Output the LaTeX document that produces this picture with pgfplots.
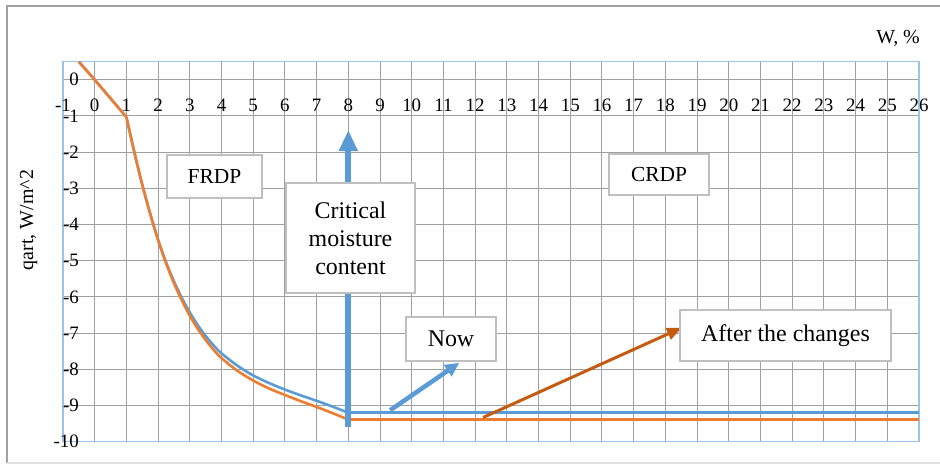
\documentclass[border=0pt]{standalone}
\usepackage{fontspec}
\setmainfont{Liberation Serif}
\usepackage{pgfplots}
\pgfplotsset{compat=1.18}
\usetikzlibrary{arrows.meta}
\definecolor{xlblue}{HTML}{5B9BD5}
\definecolor{xlorange}{HTML}{ED7D31}
\definecolor{xlbrown}{HTML}{C55A11}
\definecolor{axblue}{HTML}{9DC3E6}
\definecolor{gridgray}{HTML}{A0A0A0}
\definecolor{boxgray}{HTML}{BFBFBF}
\definecolor{framegray}{HTML}{A0A0A0}
\begin{document}
\begin{tikzpicture}
\begin{axis}[
  at={(63bp,24.3bp)}, anchor=south west,
  scale only axis, width=856bp, height=380bp,
  xmin=-1, xmax=26, ymin=-10, ymax=0.5,
  xtick={-1,0,...,26}, ytick={-10,-9,...,0},
  grid=major, major grid style={draw=gridgray, line width=1bp},
  axis line style={draw=axblue, line width=1.5bp},
  major tick length=0pt,
  xticklabel pos=upper,
  xticklabel style={anchor=center, inner sep=0pt, yshift=-43.3bp},
  yticklabel style={anchor=east, inner sep=0pt, xshift=16bp},
  tick label style={font=\fontsize{19}{19}\selectfont},
  /pgf/number format/assume math mode=true,
]
% blue series (Now)
\addplot[xlblue, line width=2.6bp] coordinates {(-0.5,0.5) (0,0) (1,-1.03)};
\addplot[xlblue, line width=2.6bp, smooth] coordinates {
 (1,-1.03) (1.25,-2.0) (1.5,-2.9) (1.75,-3.7) (2,-4.42) (2.25,-5.04) (2.5,-5.57)
 (2.75,-6.03) (3,-6.43) (3.25,-6.78) (3.5,-7.08) (3.75,-7.34) (4,-7.56) (4.5,-7.9)
 (5,-8.17) (5.5,-8.38) (6,-8.56) (6.5,-8.72) (7,-8.87) (7.5,-9.03) (8,-9.2)};
\addplot[xlblue, line width=2.6bp] coordinates {(8,-9.2) (26,-9.2)};
% orange series (After the changes)
\addplot[xlorange, line width=2.6bp] coordinates {(-0.5,0.5) (0,0) (1,-1.03)};
\addplot[xlorange, line width=2.6bp, smooth] coordinates {
 (1,-1.03) (1.25,-2.0) (1.5,-2.9) (1.75,-3.7) (2,-4.43) (2.25,-5.07) (2.5,-5.62)
 (2.75,-6.1) (3,-6.52) (3.25,-6.88) (3.5,-7.19) (3.75,-7.46) (4,-7.69) (4.5,-8.04)
 (5,-8.31) (5.5,-8.53) (6,-8.71) (6.5,-8.88) (7,-9.04) (7.5,-9.21) (8,-9.39)};
\addplot[xlorange, line width=2.6bp] coordinates {(8,-9.39) (26,-9.39)};
% arrows
\addplot[xlblue, line width=6bp, -{Triangle[width=18bp,length=21bp]}] coordinates {(8,-9.6) (8,-1.39)};
\addplot[xlblue, line width=4.5bp, -{Triangle[width=13bp,length=14bp]}] coordinates {(9.32,-9.13) (11.5,-7.82)};
\addplot[xlbrown, line width=3bp, -{Triangle[width=12bp,length=15bp]}] coordinates {(12.25,-9.33) (18.52,-6.85)};
% annotation boxes
\node[draw=boxgray, line width=1.5bp, fill=white, minimum width=129bp, minimum height=110bp, inner sep=0pt, align=center, font=\fontsize{24}{28}\selectfont] at (axis cs:8.068,-4.371) {Critical\\moisture\\content};
\node[draw=boxgray, line width=1.5bp, fill=white, minimum width=90bp, minimum height=44bp, inner sep=0pt, font=\fontsize{24}{28}\selectfont] at (axis cs:11.238,-7.162) {Now};
\node[draw=boxgray, line width=1.5bp, fill=white, minimum width=211bp, minimum height=51bp, inner sep=0pt, font=\fontsize{24}{28}\selectfont] at (axis cs:21.789,-7.065) {After the changes};
\node[draw=boxgray, line width=1.5bp, fill=white, minimum width=95bp, minimum height=43bp, inner sep=0pt, font=\fontsize{21.5}{24}\selectfont] at (axis cs:3.779,-2.672) {FRDP};
\node[draw=boxgray, line width=1.5bp, fill=white, minimum width=100bp, minimum height=41bp, inner sep=0pt, font=\fontsize{21.5}{24}\selectfont] at (axis cs:17.799,-2.617) {CRDP};
\end{axis}
% axis titles
\node[anchor=base east, inner sep=0pt, font=\fontsize{20}{24}\selectfont] at (920bp,422bp) {W, \%};
\node[anchor=base, rotate=90, inner sep=0pt, font=\fontsize{20}{24}\selectfont] at (33bp,246bp) {qart, W/m\textasciicircum 2};
% outer frame
\draw[framegray, line width=2bp] (7bp,3bp) -- (7bp,460bp) -- (940bp,460bp);
\draw[black!12, line width=1.5bp] (7bp,3bp) -- (940bp,3bp);
\pgfresetboundingbox
\path (0bp,0bp) rectangle (940bp,466bp);
\end{tikzpicture}
\end{document}
